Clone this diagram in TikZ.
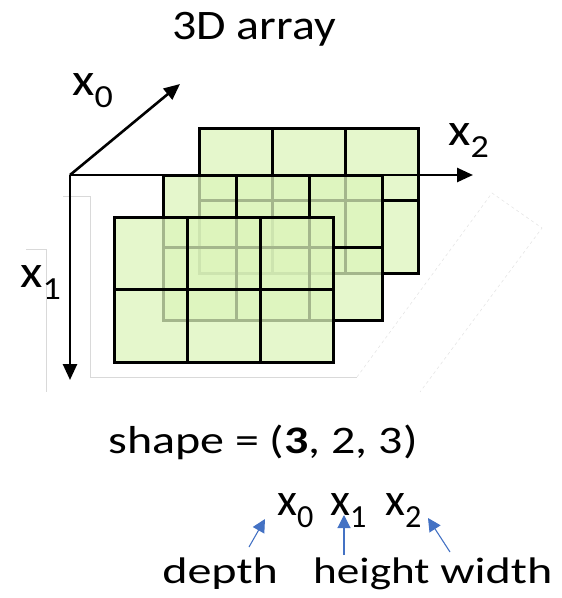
\documentclass[tikz,border=0pt]{standalone}
\usepackage{fontspec}
\setmainfont{Carlito}
\usetikzlibrary{arrows.meta, positioning}
\definecolor{planegreen}{RGB}{220,244,187}
\definecolor{pointblue}{RGB}{68,114,196}
\tikzset{
    plane/.style={
        fill=planegreen,
        fill opacity=0.75
    },
    gridline/.style={
        draw=black,
        line width=3pt
    },
    axis/.style={
        line width=2.6pt,
        -{Triangle[length=16pt, width=14pt]}
    },
    pointer/.style={
        draw=pointblue,
        line width=1.1pt,
        -{Triangle[length=13pt, width=13pt]}
    },
    ghost/.style={
        draw=gray!30,
        line width=0.6pt
    },
    titletext/.style={
        font=\fontsize{42}{46}\selectfont,
        xscale=1.14,
        inner sep=0pt,
        anchor=base west
    },
    bigtext/.style={
        font=\fontsize{39}{44}\selectfont,
        xscale=1.23,
        inner sep=0pt,
        anchor=base west
    },
    wordtext/.style={
        font=\fontsize{37}{42}\selectfont,
        xscale=1.3,
        inner sep=0pt,
        anchor=base west
    },
    axistext/.style={
        font=\fontsize{46}{50}\selectfont,
        xscale=1.12,
        inner sep=0pt,
        anchor=base west
    },
    xtext/.style={
        font=\fontsize{46}{50}\selectfont,
        inner sep=0pt,
        anchor=base west
    }
}

\begin{document}
\begin{tikzpicture}[x=1pt, y=-1pt]
\useasboundingbox (0,0) rectangle (562,598);

% faint leftovers of the page behind
\draw[ghost] (63,196) -- (90,196) -- (90,377) -- (357,377);
\draw[ghost] (26,249) -- (46,249) -- (46,392);
\draw[ghost, draw=gray!20, dashed] (357,377) -- (492,193) -- (542,228) -- (420,392);

% the three planes, back to front
\foreach \px/\py in {199/128, 163/175, 114/217} {
    \fill[plane] (\px,\py) rectangle ++(219,145);
    \draw[gridline] (\px,\py) rectangle ++(219,145)
        (\px+73,\py) -- ++(0,145)
        (\px+146,\py) -- ++(0,145)
        (\px,\py+72.5) -- ++(219,0);
}

% axes
\coordinate (origin) at (70,175);
\coordinate (tip0) at (180,84);
\coordinate (tip1) at (70,380);
\coordinate (tip2) at (473,175);
\draw[axis] (origin) -- (tip0);
\draw[axis] (origin) -- (tip2);
\draw[axis] (origin) -- (tip1);

\node[axistext] (axx0) at (72,95) {x\textsubscript{0}};
\node[axistext] (axx2) at (448,145) {x\textsubscript{2}};
\node[axistext] (axx1) at (20,287) {x\textsubscript{1}};

\node[titletext] (title) at (172,39) {3D array};
\node[bigtext] (shapetxt) at (108,453) {shape = (\textbf{3}, 2, 3)};

\node[xtext] (lbl0) at (277,515) {x\textsubscript{0}};
\node[xtext] (lbl1) at (330,515) {x\textsubscript{1}};
\node[xtext] (lbl2) at (385,515) {x\textsubscript{2}};

\node[wordtext] (depth) at (162,583) {depth};
\node[wordtext, xscale=0.94] (height) at (313,583) {height};
\node[wordtext] (width) at (440,583) {width};

\draw[pointer] ([xshift=87pt, yshift=36pt]depth.base west) -- ([xshift=-12pt, yshift=-4pt]lbl0.base west);
\draw[pointer] ([xshift=31pt, yshift=28pt]height.base west) -- ([xshift=14pt]lbl1.base west);
\draw[pointer] ([xshift=10pt, yshift=31pt]width.base west) -- ([xshift=43pt, yshift=-3pt]lbl2.base west);
\end{tikzpicture}
\end{document}
